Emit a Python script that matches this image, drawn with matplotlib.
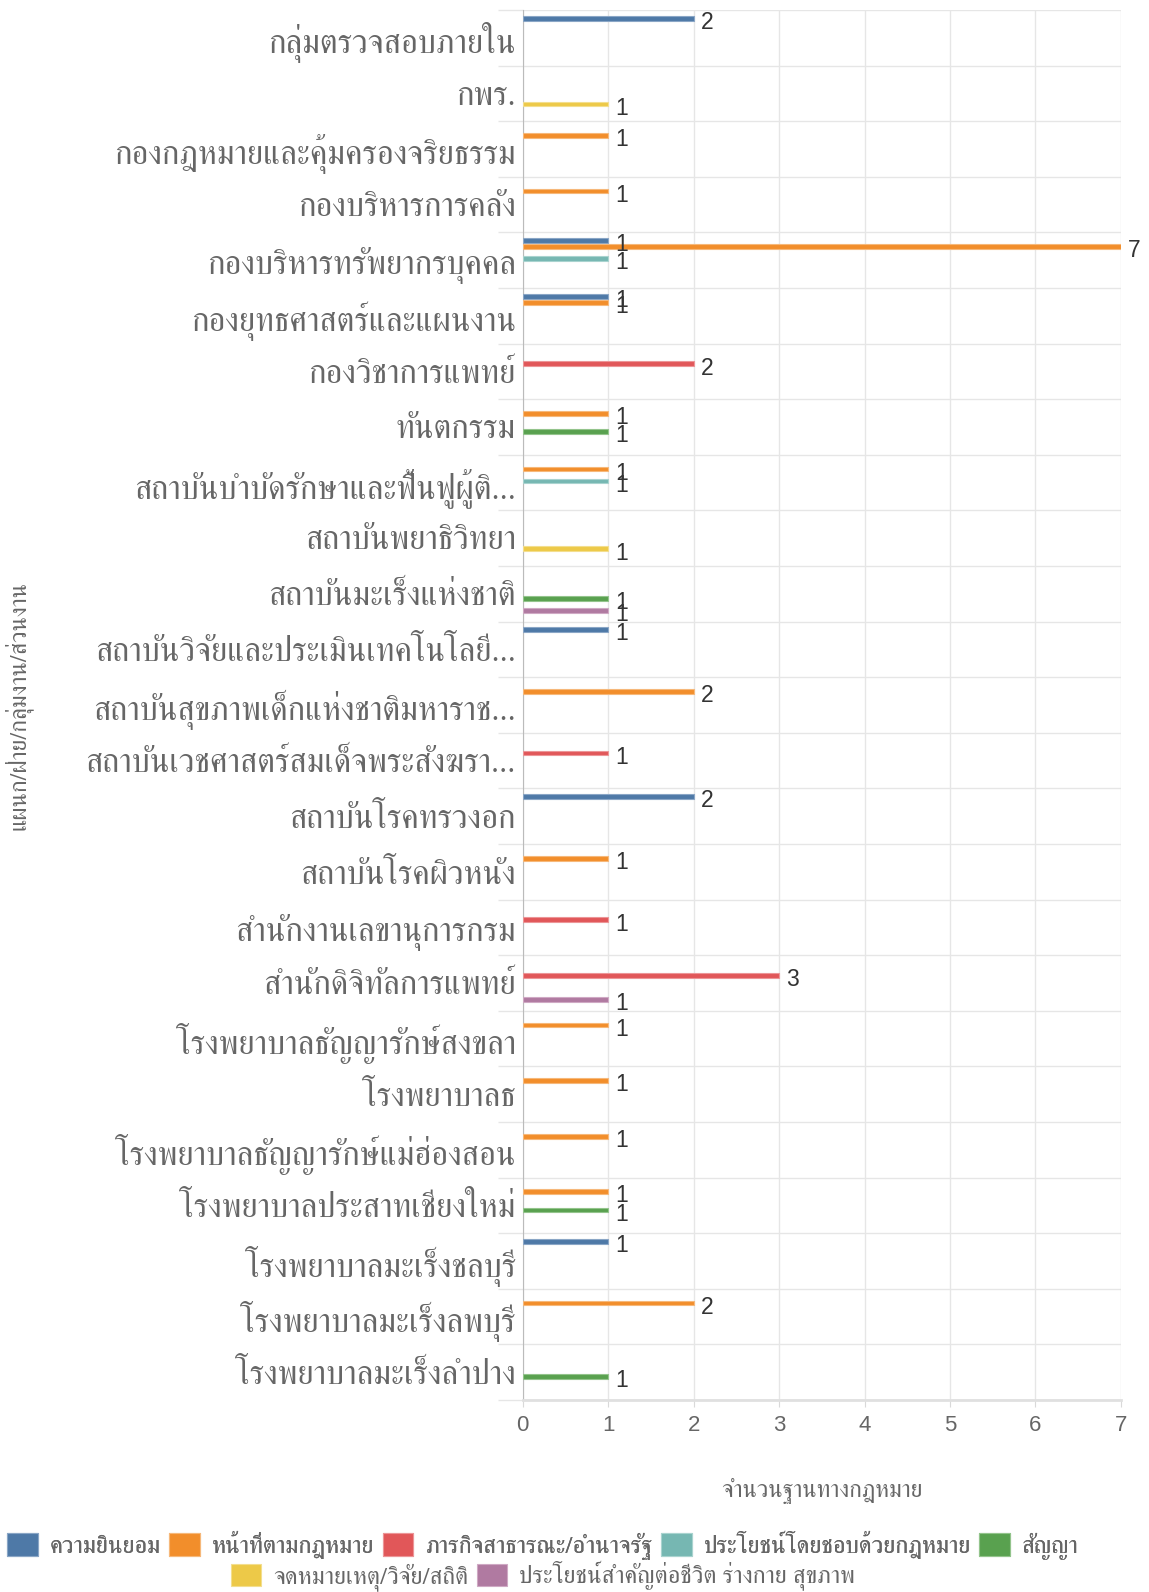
import numpy as np
import matplotlib
matplotlib.use("Agg")
import matplotlib.pyplot as plt
from matplotlib import font_manager
from matplotlib.ft2font import FT2Font
from matplotlib.patches import Patch

# pick a font with thai glyphs (FreeSerif looks closest)
thai_fonts = []
for f in font_manager.fontManager.ttflist:
    try:
        cm = FT2Font(f.fname).get_charmap()
    except Exception:
        continue
    if 0x0E01 in cm and f.name not in thai_fonts:
        thai_fonts.append(f.name)
thai = None
for p in ["FreeSerif", "Noto Serif Thai", "Loma"]:
    if p in thai_fonts:
        thai = p
        break
if thai is None and thai_fonts:
    thai = thai_fonts[0]
thai_family = [thai, "DejaVu Sans"] if thai else ["DejaVu Sans"]

categories = ["กลุ่มตรวจสอบภายใน", "กพร.", "กองกฎหมายและคุ้มครองจริยธรรม", "กองบริหารการคลัง",
              "กองบริหารทรัพยากรบุคคล", "กองยุทธศาสตร์และแผนงาน", "กองวิชาการแพทย์", "ทันตกรรม",
              "สถาบันบำบัดรักษาและฟื้นฟูผู้ติ...", "สถาบันพยาธิวิทยา", "สถาบันมะเร็งแห่งชาติ",
              "สถาบันวิจัยและประเมินเทคโนโลยี...", "สถาบันสุขภาพเด็กแห่งชาติมหาราช...",
              "สถาบันเวชศาสตร์สมเด็จพระสังฆรา...", "สถาบันโรคทรวงอก", "สถาบันโรคผิวหนัง",
              "สำนักงานเลขานุการกรม", "สำนักดิจิทัลการแพทย์", "โรงพยาบาลธัญญารักษ์สงขลา",
              "โรงพยาบาลธ", "โรงพยาบาลธัญญารักษ์แม่ฮ่องสอน", "โรงพยาบาลประสาทเชียงใหม่",
              "โรงพยาบาลมะเร็งชลบุรี", "โรงพยาบาลมะเร็งลพบุรี", "โรงพยาบาลมะเร็งลำปาง"]

consent        = [2, 0, 0, 0, 1, 1, 0, 0, 0, 0, 0, 1, 0, 0, 2, 0, 0, 0, 0, 0, 0, 0, 1, 0, 0]
legal_duty     = [0, 0, 1, 1, 7, 1, 0, 1, 1, 0, 0, 0, 2, 0, 0, 1, 0, 0, 1, 1, 1, 1, 0, 2, 0]
public_task    = [0, 0, 0, 0, 0, 0, 2, 0, 0, 0, 0, 0, 0, 1, 0, 0, 1, 3, 0, 0, 0, 0, 0, 0, 0]
legit_interest = [0, 0, 0, 0, 1, 0, 0, 0, 1, 0, 0, 0, 0, 0, 0, 0, 0, 0, 0, 0, 0, 0, 0, 0, 0]
contract       = [0, 0, 0, 0, 0, 0, 0, 1, 0, 0, 1, 0, 0, 0, 0, 0, 0, 0, 0, 0, 0, 1, 0, 0, 1]
archive        = [0, 1, 0, 0, 0, 0, 0, 0, 0, 1, 0, 0, 0, 0, 0, 0, 0, 0, 0, 0, 0, 0, 0, 0, 0]
vital          = [0, 0, 0, 0, 0, 0, 0, 0, 0, 0, 1, 0, 0, 0, 0, 0, 0, 1, 0, 0, 0, 0, 0, 0, 0]

series_names = ["ความยินยอม", "หน้าที่ตามกฎหมาย", "ภารกิจสาธารณะ/อำนาจรัฐ",
                "ประโยชน์โดยชอบด้วยกฎหมาย", "สัญญา", "จดหมายเหตุ/วิจัย/สถิติ",
                "ประโยชน์สำคัญต่อชีวิต ร่างกาย สุขภาพ"]
series = [consent, legal_duty, public_task, legit_interest, contract, archive, vital]
colors = ["#4e79a7", "#f28e2b", "#e15759", "#76b7b2", "#59a14f", "#edc948", "#b07aa1"]
edges = ["#8aa6c6", "#f6b87a", "#ec9597", "#a9d3cf", "#93c48c", "#f3de8e", "#cfa9c4"]

fig = plt.figure(figsize=(11.49, 15.92), dpi=100)
ax = fig.add_axes([0.455, 0.1206, 0.5205, 0.8731])

n = len(categories)
idx = np.arange(n)
for i, (vals, c, ec) in enumerate(zip(series, colors, edges)):
    vals = np.array(vals)
    m = vals > 0
    ypos = idx[m] - 0.5 + 0.146 + 0.109 * i
    ax.barh(ypos, vals[m], height=0.085, color=c, edgecolor=ec, linewidth=0.8, zorder=3)
    for y, v in zip(ypos, vals[m]):
        ax.text(v + 0.08, y + 0.03, str(v), va="center_baseline", ha="left", fontsize=16.5,
                color="#333333", family="Liberation Sans", zorder=4)

ax.set_xlim(0, 7)
ax.set_ylim(n - 0.5, -0.5)
ax.set_xticks(range(8))
ax.set_xticklabels([str(t) for t in range(8)], fontsize=16, color="#666666", family="Liberation Sans")
ax.set_yticks(idx)
ax.set_yticklabels(categories, fontsize=23.5, color="#666666", family=thai_family)
ax.set_yticks(np.arange(n + 1) - 0.5, minor=True)
ax.tick_params(axis="y", which="major", length=0, pad=5)
ax.tick_params(axis="y", which="minor", length=18, color="#e6e6e6", width=1)
ax.tick_params(axis="x", which="major", length=5, color="#d9d9d9", pad=6)
ax.grid(axis="x", color="#e6e6e6", linewidth=1, zorder=0)
ax.grid(axis="y", which="minor", color="#e6e6e6", linewidth=1, zorder=0)
for s in ["top", "right"]:
    ax.spines[s].set_visible(False)
ax.spines["left"].set_color("#bbbbbb")
ax.spines["bottom"].set_color("#e0e0e0")
ax.spines["bottom"].set_linewidth(2)

ax.set_xlabel("จำนวนฐานทางกฎหมาย", fontsize=17, color="#666666", family=thai_family, labelpad=30)
ax.set_ylabel("แผนก/ฝ่าย/กลุ่มงาน/ส่วนงาน", fontsize=17, color="#666666", family=thai_family)
ax.yaxis.set_label_coords(-0.82, 0.5)

handles = [Patch(facecolor=c, edgecolor=ec, linewidth=0.8) for c, ec in zip(colors, edges)]
legend_font = {"family": thai_family, "size": 17.5}
leg_kw = dict(loc="center", frameon=False, prop=legend_font, labelcolor="#666666",
              handlelength=1.25, handleheight=1.05, columnspacing=0.35, handletextpad=0.5)
leg1 = fig.legend(handles[:5], series_names[:5], bbox_to_anchor=(0.4726, 0.0295), ncol=5, **leg_kw)
leg2 = fig.legend(handles[5:], series_names[5:], bbox_to_anchor=(0.4726, 0.0100), ncol=2, **leg_kw)
fig.add_artist(leg1)

fig.savefig("out.png", dpi=100)
